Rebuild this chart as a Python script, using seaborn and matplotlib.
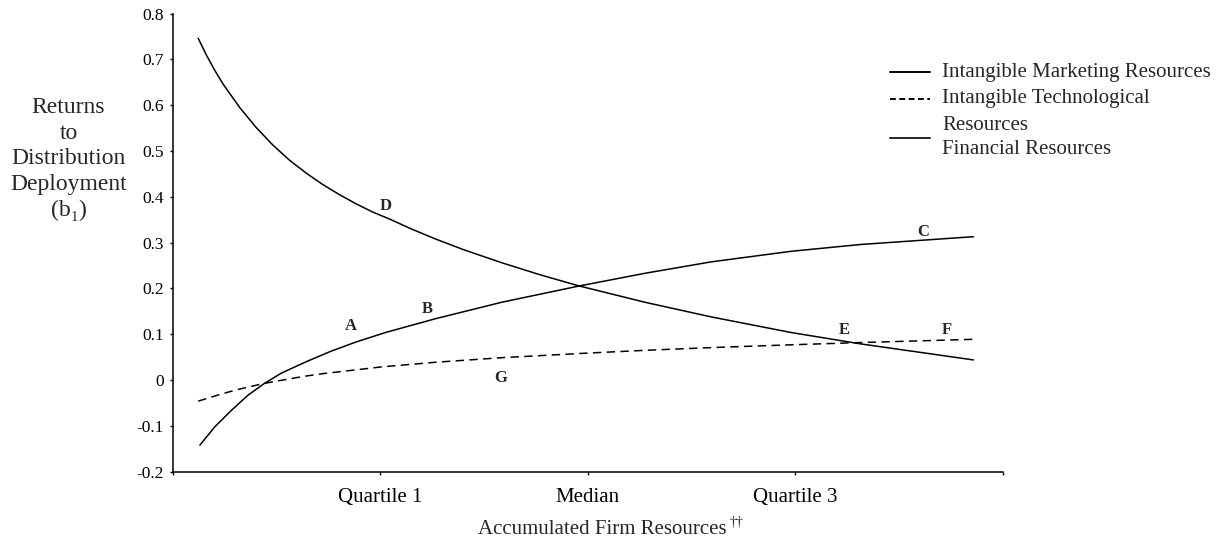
import numpy as np
import pandas as pd
import matplotlib
matplotlib.use("Agg")
import matplotlib.pyplot as plt
from matplotlib.lines import Line2D
import seaborn as sns

# values (x: 0 = low, 1 = Q1, 2 = median, 3 = Q3)
mkt_x = [0.123, 0.163, 0.203, 0.243, 0.323, 0.403, 0.483, 0.563, 0.643, 0.723, 0.803, 0.883,
         0.963, 1.043, 1.15, 1.267, 1.4, 1.587, 1.77, 1.955, 2.275, 2.595, 2.979, 3.316, 3.86]
marketing = [0.746, 0.709, 0.676, 0.646, 0.595, 0.551, 0.513, 0.480, 0.452, 0.427, 0.405, 0.385,
             0.367, 0.352, 0.330, 0.308, 0.285, 0.256, 0.230, 0.206, 0.170, 0.138, 0.104, 0.079, 0.044]

fin_x = [0.131, 0.203, 0.283, 0.363, 0.443, 0.523, 0.643, 0.763, 0.883, 1.027, 1.267, 1.587,
         1.955, 2.275, 2.595, 2.979, 3.316, 3.86]
financial = [-0.142, -0.102, -0.066, -0.033, -0.007, 0.015, 0.040, 0.063, 0.083, 0.104, 0.134, 0.170,
             0.205, 0.233, 0.258, 0.281, 0.296, 0.313]

tech_x = [0.123, 0.23, 0.31, 0.443, 0.63, 0.723, 1.011, 1.27, 1.59, 1.96, 2.28, 2.6, 2.98, 3.32, 3.86]
technological = [-0.046, -0.031, -0.021, -0.007, 0.008, 0.014, 0.029, 0.039, 0.049, 0.058, 0.065,
                 0.071, 0.077, 0.082, 0.089]

x_ticks = [0, 1, 2, 3, 4]
x_ticklabels = ["", "Quartile 1", "Median", "Quartile 3", ""]
y_ticks = [-0.2, -0.1, 0, 0.1, 0.2, 0.3, 0.4, 0.5, 0.6, 0.7, 0.8]
y_ticklabels = ["-0.2", "-0.1", "0", "0.1", "0.2", "0.3", "0.4", "0.5", "0.6", "0.7", "0.8"]

# point labels (letter, x, y)
point_labels = [("D", 1.027, 0.380), ("A", 0.859, 0.118), ("B", 1.227, 0.156),
                ("G", 1.579, 0.005), ("C", 3.620, 0.323), ("E", 3.236, 0.109),
                ("F", 3.732, 0.109)]

legend_labels = ["Intangible Marketing Resources", "Intangible Technological",
                 "Resources", "Financial Resources"]

mkt_df = pd.DataFrame({"x": mkt_x, "y": marketing})
fin_df = pd.DataFrame({"x": fin_x, "y": financial})
tech_df = pd.DataFrame({"x": tech_x, "y": technological})

sns.set_theme(style="ticks")
plt.rcParams["font.family"] = ["Liberation Serif", "DejaVu Serif"]

W, H = 1222, 542
fig = plt.figure(figsize=(W / 100, H / 100), dpi=100)
ax = fig.add_axes([172.7 / W, 1 - 471.7 / H, 829.8 / W, 458.1 / H])

sns.lineplot(data=mkt_df, x="x", y="y", ax=ax, color="black", lw=1.1)
sns.lineplot(data=fin_df, x="x", y="y", ax=ax, color="black", lw=1.1)
sns.lineplot(data=tech_df, x="x", y="y", ax=ax, color="black", lw=1.1,
             linestyle=(0, (5.5, 3.5)))

ax.set_xlim(0, 4)
ax.set_ylim(-0.2, 0.8)
ax.set_xticks(x_ticks)
ax.set_xticklabels(x_ticklabels, fontsize=15)
ax.set_yticks(y_ticks)
ax.set_yticklabels(y_ticklabels, fontsize=12.5)
ax.tick_params(axis="x", length=2.5, width=1, pad=9, colors="black")
ax.tick_params(axis="y", length=2.5, width=1, pad=4, colors="black")
ax.set_xlabel("")
ax.set_ylabel("")
sns.despine(ax=ax)
for s in ["left", "bottom"]:
    ax.spines[s].set_linewidth(1.1)
    ax.spines[s].set_color("black")

for lab, lx, ly in point_labels:
    ax.text(lx, ly, lab, fontsize=12, fontweight="bold", ha="center", va="center")

# axis titles
fig.text(68.5 / W, 1 - 159 / H, "Returns\nto\nDistribution\nDeployment\n(b\u2081)",
         fontsize=17, ha="center", va="center", linespacing=1.3)
fig.text(602 / W, 1 - 529 / H, "Accumulated Firm Resources", fontsize=15,
         ha="center", va="center")
fig.text(736 / W, 1 - 522 / H, "\u2020\u2020", fontsize=10, ha="center", va="center")

# legend drawn by hand to follow the original layout
rows = [72, 99, 125, 150]
for lab, r in zip(legend_labels, rows):
    fig.text(942 / W, 1 - r / H, lab, fontsize=15, ha="left", va="center")
fig.add_artist(Line2D([890 / W, 930 / W], [1 - 72 / H, 1 - 72 / H], color="black", lw=1.4))
fig.add_artist(Line2D([890 / W, 930 / W], [1 - 99 / H, 1 - 99 / H], color="black", lw=1.4,
                      linestyle=(0, (3, 1.8))))
fig.add_artist(Line2D([890 / W, 930 / W], [1 - 138 / H, 1 - 138 / H], color="#222222", lw=1.4))

fig.savefig("out.png", dpi=100, facecolor="white")
